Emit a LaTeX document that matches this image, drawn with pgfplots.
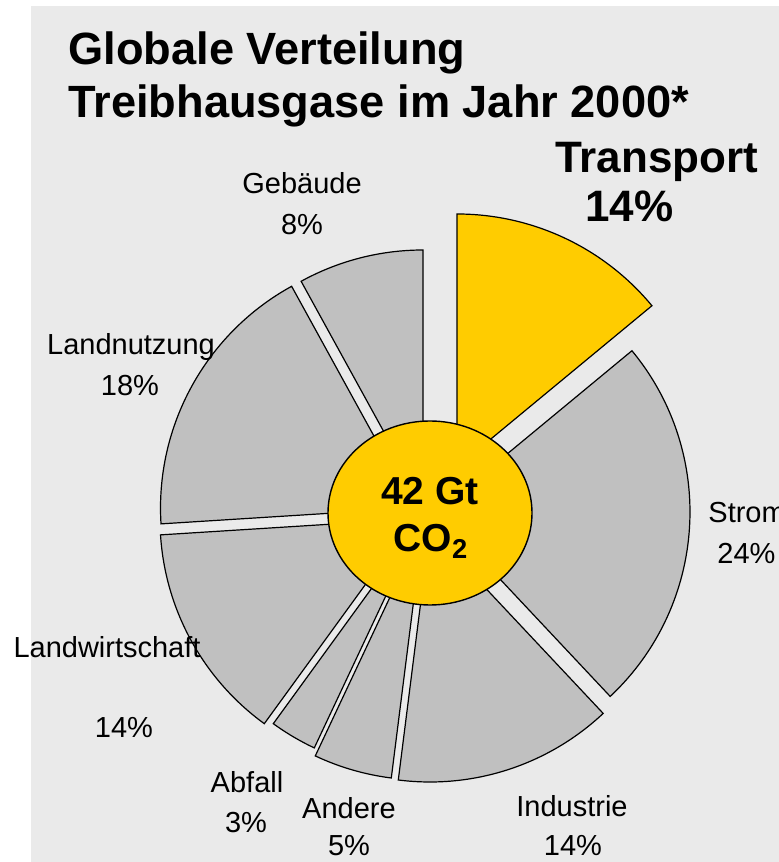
\documentclass[border=0pt]{standalone}
\usepackage{pgfplots}
\pgfplotsset{compat=1.18}
\usepackage{pgfplotstable}
\usepackage{fontspec}
\setmainfont{Liberation Sans}
\definecolor{bggray}{HTML}{EAEAEA}
\definecolor{piegray}{HTML}{C0C0C0}
\definecolor{pieyellow}{HTML}{FFCC00}

% share in %, apex shift of the exploded slice (px), highlight flag
\pgfplotstableread{
name pct dx dy hl
Transport 14 32 48 1
Strom 24 12 3 0
Industrie 14 5 -14 0
Andere 5 -2 -12 0
Abfall 3 -3 -4 0
Landwirtschaft 14 -12 -4 0
Landnutzung 18 -11.5 7 0
Gebaeude 8 -2 12 0
}\piedata

\begin{document}
\begin{tikzpicture}
\useasboundingbox (0,0) rectangle (389.5pt,431pt);
\clip (0,0) rectangle (389.5pt,431pt);
\begin{axis}[
  at={(0,0)}, anchor=south west,
  x=0.5pt, y=0.5pt,
  xmin=0, xmax=779, ymin=0, ymax=862,
  hide axis, clip=false,
]
\fill[white] (axis cs:0,0) rectangle (axis cs:779,862);
\fill[bggray] (axis cs:31,0) rectangle (axis cs:779,856);

\def\angA{90}
\pgfplotsforeachungrouped \i in {0,...,7}{%
  \pgfplotstablegetelem{\i}{pct}\of\piedata \let\pct\pgfplotsretval
  \pgfplotstablegetelem{\i}{dx}\of\piedata \let\ddx\pgfplotsretval
  \pgfplotstablegetelem{\i}{dy}\of\piedata \let\ddy\pgfplotsretval
  \pgfplotstablegetelem{\i}{hl}\of\piedata \let\hl\pgfplotsretval
  \pgfmathsetmacro{\angB}{\angA-3.6*\pct}%
  \pgfmathsetmacro{\cx}{425+\ddx}%
  \pgfmathsetmacro{\cy}{347+\ddy}%
  \ifnum\hl=1 \def\fc{pieyellow}\else\def\fc{piegray}\fi
  \edef\cmd{\noexpand\draw[line width=0.6pt, fill=\fc, line join=miter]
    (axis cs:\cx,\cy) -- ++(\angA:126.5pt)
    arc[start angle=\angA, end angle=\angB, radius=126.5pt] -- cycle;}%
  \cmd
  \let\angA\angB
}

\draw[line width=0.7pt, fill=pieyellow] (axis cs:430,349) ellipse [x radius=51pt, y radius=46pt];
\node[anchor=base, font=\fontsize{19.5}{23}\selectfont\bfseries] at (axis cs:430,357) {42 Gt};
\node[anchor=base, font=\fontsize{19.5}{23}\selectfont\bfseries] at (axis cs:431,310) {CO\textsubscript{2}};

% titles
\node[anchor=base west, inner sep=0pt, font=\fontsize{22.6}{27}\selectfont\bfseries] at (axis cs:68,797) {Globale Verteilung};
\node[anchor=base west, inner sep=0pt, font=\fontsize{22.6}{27}\selectfont\bfseries] at (axis cs:68,744) {Treibhausgase im Jahr 2000*};
\node[anchor=base west, inner sep=0pt, font=\fontsize{22}{26}\selectfont\bfseries] at (axis cs:555,689) {Transport};
\node[anchor=base west, inner sep=0pt, font=\fontsize{22}{26}\selectfont\bfseries] at (axis cs:585,640) {14\%};

% labels
\tikzset{lab/.style={anchor=base, inner sep=0pt, font=\fontsize{14.5}{17}\selectfont}}
\node[lab] at (axis cs:302,668) {Gebäude};
\node[lab] at (axis cs:302,627) {8\%};
\node[lab] at (axis cs:131,507) {Landnutzung};
\node[lab] at (axis cs:130,466) {18\%};
\node[lab, anchor=base west] at (axis cs:708,339) {Strom};
\node[lab, anchor=base west] at (axis cs:717,298) {24\%};
\node[lab] at (axis cs:107,204) {Landwirtschaft};
\node[lab] at (axis cs:124,124) {14\%};
\node[lab] at (axis cs:247,69) {Abfall};
\node[lab] at (axis cs:246,29) {3\%};
\node[lab] at (axis cs:349,43) {Andere};
\node[lab] at (axis cs:349,6) {5\%};
\node[lab] at (axis cs:572,45) {Industrie};
\node[lab] at (axis cs:573,6) {14\%};
\end{axis}
\end{tikzpicture}
\end{document}
